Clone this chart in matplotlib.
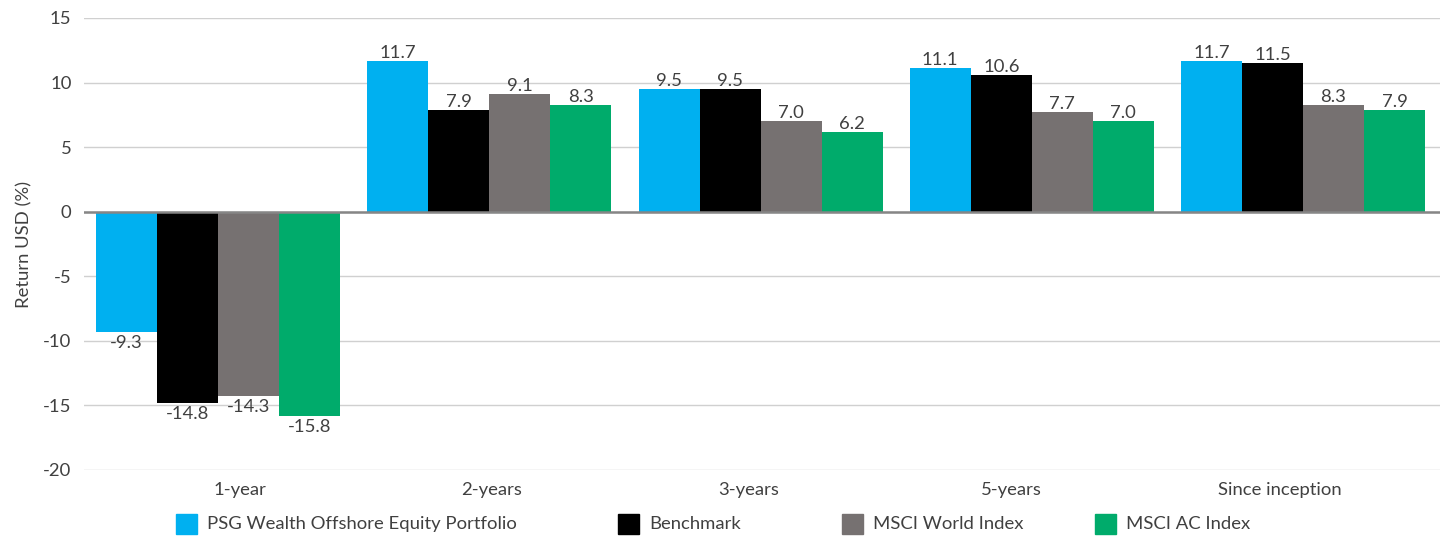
import matplotlib
matplotlib.use("Agg")
import matplotlib.pyplot as plt
import numpy as np
from matplotlib.patches import Rectangle

plt.rcParams['font.family'] = ['Lato', 'DejaVu Sans']

categories = ["1-year", "2-years", "3-years", "5-years", "Since inception"]
series_names = ["PSG Wealth Offshore Equity Portfolio", "Benchmark", "MSCI World Index", "MSCI AC Index"]
psg = [-9.3, 11.7, 9.5, 11.1, 11.7]
benchmark = [-14.8, 7.9, 9.5, 10.6, 11.5]
msci_world = [-14.3, 9.1, 7.0, 7.7, 8.3]
msci_ac = [-15.8, 8.3, 6.2, 7.0, 7.9]
yticks = [-20, -15, -10, -5, 0, 5, 10, 15]

colors = ["#00B0F0", "#000000", "#767171", "#00AB6B"]
text_color = "#404040"
fs = 13.3
# small horizontal offsets of the category labels, as in the reference layout
label_shift = [0.077, 0.004, -0.048, -0.081, -0.092]

fig = plt.figure(figsize=(14.45, 5.38), dpi=100)
ax = fig.add_axes([84/1445, 1-470/538, (1440-84)/1445, (470-18)/538])

x = np.arange(len(categories))
w = 0.225
all_series = [psg, benchmark, msci_world, msci_ac]
for i, (vals, c) in enumerate(zip(all_series, colors)):
    pos = x + (i - 1.5) * w - 0.005
    ax.bar(pos, vals, width=w, color=c, zorder=3)
    for p, v in zip(pos, vals):
        if v >= 0:
            ax.annotate(f"{v:.1f}", (p, v), xytext=(0, 0), textcoords="offset points",
                        ha="center", va="bottom", fontsize=fs, color=text_color)
        else:
            ax.annotate(f"{v:.1f}", (p, v), xytext=(0, -2), textcoords="offset points",
                        ha="center", va="top", fontsize=fs, color=text_color)

ax.set_xlim(-0.5, len(categories) - 0.5)
ax.set_ylim(-20, 15)
ax.set_yticks(yticks)
ax.set_yticklabels([str(t) for t in yticks])
ax.set_xticks(x + np.array(label_shift))
ax.set_xticklabels(categories)
ax.tick_params(axis='both', length=0, labelsize=fs, labelcolor=text_color)
ax.tick_params(axis='y', pad=9)
ax.tick_params(axis='x', pad=9)
for s in ax.spines.values():
    s.set_visible(False)
ax.yaxis.grid(True, color="#D0D0D0", lw=1, zorder=0)
ax.axhline(0, color="#868686", lw=1.8, zorder=4)
ax.set_ylabel("Return USD (%)", fontsize=fs, color=text_color, labelpad=8)

# legend entries (Excel-like spread)
leg_x = [176, 618, 842, 1095]
yc = 524
for lx, c, name in zip(leg_x, colors, series_names):
    fig.patches.append(Rectangle((lx/1445, 1-(yc+10)/538), 21/1445, 20/538,
                                 transform=fig.transFigure, color=c, figure=fig))
    fig.text((lx+31)/1445, 1-yc/538, name, fontsize=fs, color=text_color,
             ha="left", va="center")

fig.savefig("out.png", dpi=100)
